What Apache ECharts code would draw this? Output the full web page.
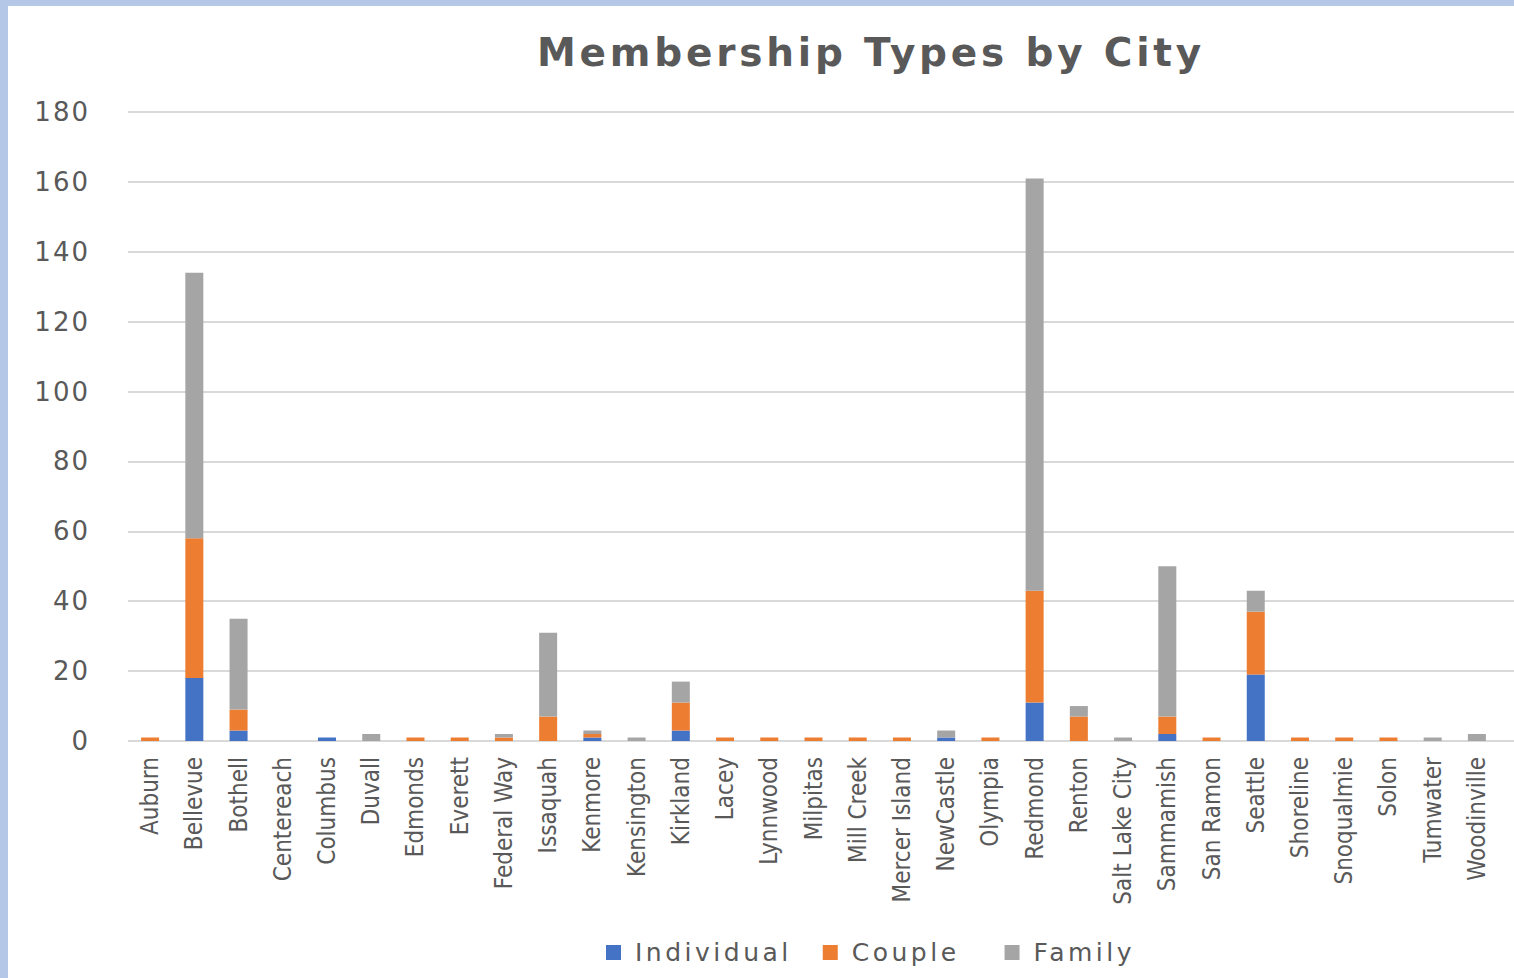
<!DOCTYPE html>
<html>
<head>
<meta charset="utf-8">
<script src="https://cdn.jsdelivr.net/npm/echarts@6/dist/echarts.min.js"></script>
<style>
  html, body { margin: 0; padding: 0; background: #b4c7e7; width: 1514px; height: 978px; overflow: hidden; }
  #chart { position: absolute; left: 8px; top: 6px; width: 1506px; height: 972px; background: #ffffff; }
</style>
</head>
<body>
<div id="chart"></div>
<script>
const titleText = 'Membership Types by City';
const categories = ['Auburn','Bellevue','Bothell','Centereach','Columbus','Duvall','Edmonds','Everett','Federal Way','Issaquah','Kenmore','Kensington','Kirkland','Lacey','Lynnwood','Milpitas','Mill Creek','Mercer Island','NewCastle','Olympia','Redmond','Renton','Salt Lake City','Sammamish','San Ramon','Seattle','Shoreline','Snoqualmie','Solon','Tumwater','Woodinville'];
const seriesNames = ['Individual','Couple','Family'];
const individual = [0,18,3,0,1,0,0,0,0,0,1,0,3,0,0,0,0,0,1,0,11,0,0,2,0,19,0,0,0,0,0];
const couple     = [1,40,6,0,0,0,1,1,1,7,1,0,8,1,1,1,1,1,0,1,32,7,0,5,1,18,1,1,1,0,0];
const family     = [0,76,26,0,0,2,0,0,1,24,1,1,6,0,0,0,0,0,2,0,118,3,1,43,0,6,0,0,0,1,2];
const yTicks = [0,20,40,60,80,100,120,140,160,180];

const chart = echarts.init(document.getElementById('chart'), null, { renderer: 'svg' });
const textColor = '#595959';
function bar(name, data, color) {
  return { name, type: 'bar', stack: 'total', data, barWidth: 18, xAxisIndex: 0, yAxisIndex: 0,
           itemStyle: { color }, emphasis: { disabled: true } };
}
const gridTop = 106, gridBottom = 237;
chart.setOption({
  animation: false,
  title: {
    text: titleText,
    left: 858, top: 22, textAlign: 'center',
    textStyle: { fontFamily: 'DejaVu Sans', fontWeight: 'bold', fontSize: 39, color: textColor }
  },
  legend: {
    bottom: 8,
    left: 593,
    itemWidth: 15, itemHeight: 15, itemGap: 66,
    icon: 'rect',
    textStyle: { fontFamily: 'DejaVu Sans', fontSize: 25, color: textColor, padding: [0, 0, 0, 9] },
    data: seriesNames
  },
  grid: [
    { left: 120, right: 15, top: gridTop, bottom: gridBottom, containLabel: false },
    { left: 120, right: 0, top: gridTop, bottom: gridBottom, containLabel: false }
  ],
  xAxis: [
    {
      type: 'category', data: categories, gridIndex: 0,
      axisLine: { show: false },
      axisTick: { show: false },
      axisLabel: { rotate: 90, interval: 0, margin: 16, fontFamily: 'Liberation Sans Narrow, DejaVu Sans Condensed, sans-serif', fontSize: 24, color: textColor }
    },
    { type: 'value', gridIndex: 1, min: 0, max: 1, show: false }
  ],
  yAxis: [
    { type: 'value', gridIndex: 0, min: 0, max: 180, interval: 20, show: false, splitLine: { show: false } },
    {
      type: 'value', gridIndex: 1, min: 0, max: 180, interval: 20,
      axisLine: { show: false }, axisTick: { show: false },
      splitLine: { lineStyle: { color: '#d9d9d9', width: 2 } },
      axisLabel: { margin: 38, fontFamily: 'DejaVu Sans', fontSize: 26, color: textColor,
        formatter: v => yTicks.includes(v) ? String(v) : '' }
    }
  ],
  series: [
    bar('Individual', individual, '#4472c4'),
    bar('Couple', couple, '#ed7d31'),
    bar('Family', family, '#a5a5a5')
  ]
});

function applySpacing() {
  document.querySelectorAll('#chart text').forEach(t => {
    const s = t.textContent;
    if (s === titleText) t.style.letterSpacing = '3.8px';
    else if (seriesNames.includes(s)) t.style.letterSpacing = '3.5px';
    else if (/^\d+$/.test(s)) t.style.letterSpacing = '2px';
  });
}
applySpacing();
chart.on('finished', applySpacing);
</script>
</body>
</html>
